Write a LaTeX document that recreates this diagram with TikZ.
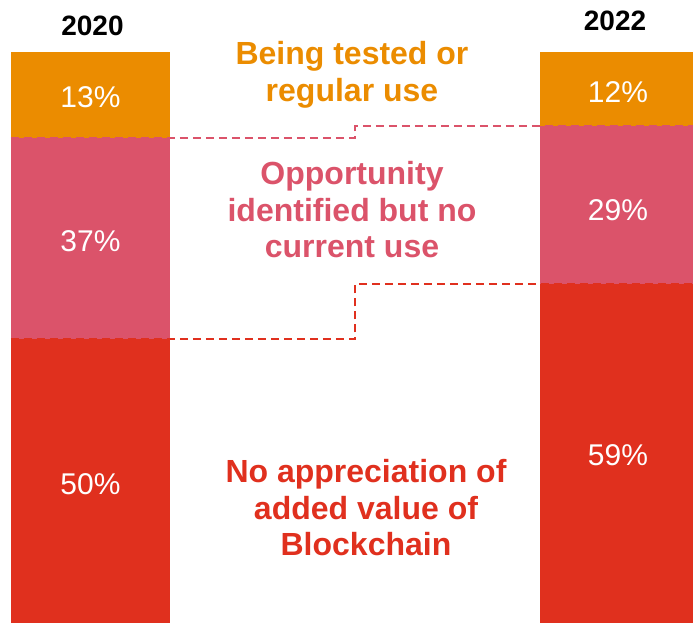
\documentclass[tikz,border=0pt]{standalone}
\usepackage{fontspec}
\setmainfont{Liberation Sans}
\definecolor{PwcOrange}{RGB}{235,140,0}
\definecolor{PwcRose}{RGB}{219,83,106}
\definecolor{PwcRed}{RGB}{224,48,30}

\begin{document}
\begin{tikzpicture}[x=1pt,y=-1pt,
  seg/.style={inner sep=0pt,minimum width=#1},
  pct/.style={inner sep=0pt,text=white,font=\fontsize{30}{34}\selectfont},
  year/.style={inner sep=0pt,font=\bfseries\fontsize{28}{32}\selectfont},
  cat/.style={align=center,inner sep=0pt,font=\bfseries\fontsize{32}{36.5}\selectfont},
  link/.style={dash pattern=on 8pt off 5pt,line width=1.6pt}]
\useasboundingbox (0,0) rectangle (693,623);

% 2020
\node[year] (y20) at (92.5,26) {2020};
\node[seg=159pt,fill=PwcOrange,minimum height=86pt] (top20) at (90.5,95) {};
\node[seg=159pt,fill=PwcRose,minimum height=201pt] (mid20) at (90.5,238.5) {};
\node[seg=159pt,fill=PwcRed,minimum height=284pt] (low20) at (90.5,481) {};
\node[pct] (p13) at (90.5,97.5) {13\%};
\node[pct] (p37) at (90.5,241.5) {37\%};
\node[pct] (p50) at (90.5,484) {50\%};

% 2022
\node[year] (y22) at (615,21) {2022};
\node[seg=153pt,fill=PwcOrange,minimum height=74pt] (top22) at (616.5,89) {};
\node[seg=153pt,fill=PwcRose,minimum height=158pt] (mid22) at (616.5,205) {};
\node[seg=153pt,fill=PwcRed,minimum height=339pt] (low22) at (616.5,453.5) {};
\node[pct] (p12) at (618,92) {12\%};
\node[pct] (p29) at (618,210.5) {29\%};
\node[pct] (p59) at (618,455) {59\%};

% step links
\coordinate (step) at (355,0);
\draw[link,PwcRose] (top20.south west) -- (top20.south west -| step)
  -- (top22.south east -| step) -- (top22.south east);
\draw[link,PwcRed] (mid20.south west) -- (mid20.south west -| step)
  -- (mid22.south east -| step) -- (mid22.south east);

% categories
\node[cat,text=PwcOrange] (tested) at (352,75) {Being tested or\\regular use};
\node[cat,text=PwcRose] (opport) at (352,210) {Opportunity\\identified but no\\current use};
\node[cat,text=PwcRed] (noval) at (366,508) {No appreciation of\\added value of\\Blockchain};
\end{tikzpicture}
\end{document}
